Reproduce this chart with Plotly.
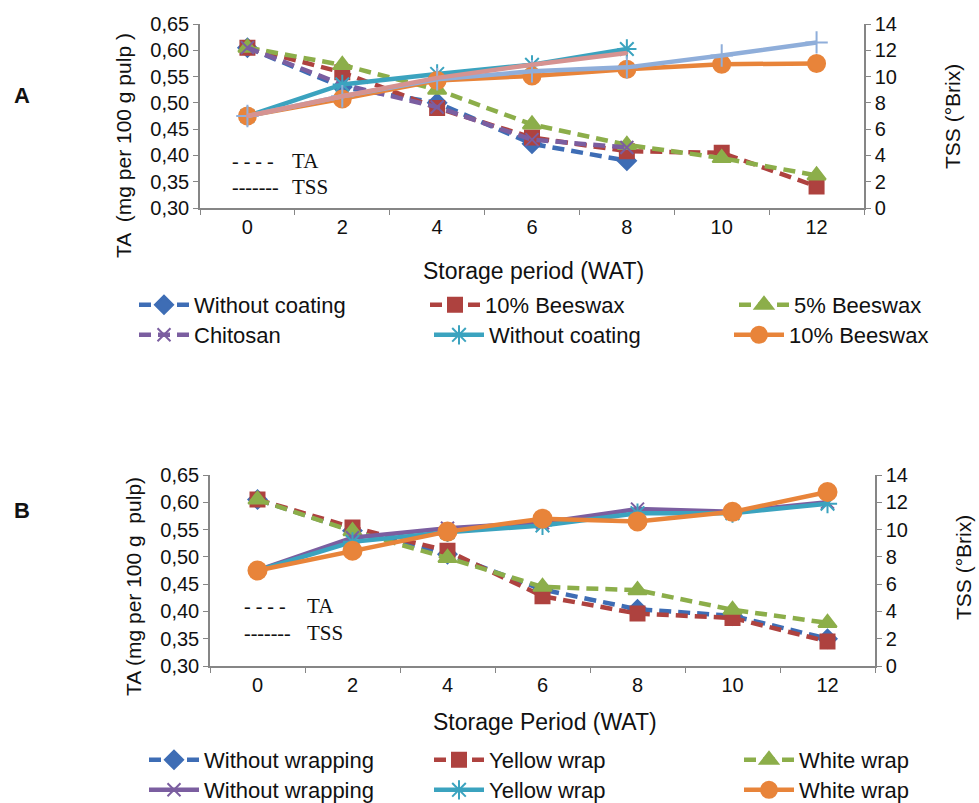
import plotly.graph_objects as go

weeks = ["0", "2", "4", "6", "8", "10", "12"]

# Panel A - TA (mg per 100 g pulp)
a_ta_without = [0.605, 0.530, 0.500, 0.422, 0.390]
a_ta_bw10 = [0.605, 0.558, 0.490, 0.434, 0.408, 0.405, 0.341]
a_ta_bw5 = [0.605, 0.572, 0.525, 0.459, 0.420, 0.395, 0.362]
a_ta_chitosan = [0.605, 0.535, 0.492, 0.430, 0.415]
# Panel A - TSS (°Brix)
a_tss_without = [7.0, 9.4, 10.2, 10.9, 12.1]
a_tss_bw10 = [7.0, 8.3, 9.7, 10.05, 10.56, 10.94, 11.0]
a_tss_bw5 = [7.0, 8.5, 9.8, 10.4, 10.7, 11.6, 12.6]
a_tss_chitosan = [7.0, 8.5, 9.9, 10.9, 11.8]

# Panel B - TA
b_ta_without = [0.605, 0.548, 0.505, 0.440, 0.404, 0.392, 0.350]
b_ta_yellow = [0.605, 0.554, 0.511, 0.428, 0.396, 0.388, 0.345]
b_ta_white = [0.605, 0.547, 0.498, 0.445, 0.439, 0.403, 0.379]
# Panel B - TSS
b_tss_without = [7.0, 9.4, 10.1, 10.5, 11.5, 11.3, 12.0]
b_tss_yellow = [7.0, 9.1, 9.8, 10.3, 11.2, 11.2, 11.9]
b_tss_white = [7.0, 8.45, 9.85, 10.8, 10.6, 11.3, 12.75]

BLUE = "#3E6DB5"
RED = "#AE423F"
GREEN = "#8CAE4A"
PURPLE = "#7B5EA0"
TEAL = "#3BA3BF"
ORANGE = "#E8843A"
LBLUE = "#8FAEDA"
PINK = "#D69391"

DASH = "12px,7px"
FONT = "Liberation Sans, Arial, sans-serif"

# body margin is removed by the post_script below, so page coords == figure coords
OX, OY = 0, 0
W, H = 979, 803


def px(x):
    return (x - OX) / W


def py(y):
    return 1 - (y - OY) / H


fig = go.Figure()


def ta(x, y, name, color, symbol, xa, ya, legend, size=13, showlegend=True):
    fig.add_trace(go.Scatter(
        x=x, y=y, name=name, mode="lines+markers", xaxis=xa, yaxis=ya,
        line=dict(color=color, width=4.5, dash=DASH),
        marker=dict(symbol=symbol, size=size, color=color,
                    line=dict(color=color, width=2)),
        legend=legend, showlegend=showlegend))


def tss(x, y, name, color, symbol, xa, ya, legend, size=14, showlegend=True):
    fig.add_trace(go.Scatter(
        x=x, y=y, name=name, mode="lines+markers", xaxis=xa, yaxis=ya,
        line=dict(color=color, width=4.5),
        marker=dict(symbol=symbol, size=size, color=color,
                    line=dict(color=color, width=2)),
        legend=legend, showlegend=showlegend))


# Panel A
ta(weeks[:5], a_ta_without, "Without coating", BLUE, "diamond", "x", "y", "legend", 14)
ta(weeks, a_ta_bw10, "10% Beeswax", RED, "square", "x", "y", "legend2", 14)
ta(weeks, a_ta_bw5, "5% Beeswax", GREEN, "triangle-up", "x", "y", "legend3", 16)
ta(weeks[:5], a_ta_chitosan, "Chitosan", PURPLE, "x-thin-open", "x", "y", "legend4", 13)
tss(weeks[:5], a_tss_without, "Without coating", TEAL, "asterisk-open", "x", "y2", "legend5", 16)
tss(weeks, a_tss_bw10, "10% Beeswax", ORANGE, "circle", "x", "y2", "legend6", 17)
tss(weeks, a_tss_bw5, "5% Beeswax", LBLUE, "cross-thin-open", "x", "y2", "legend6", 16, False)
tss(weeks[:5], a_tss_chitosan, "Chitosan", PINK, "circle", "x", "y2", "legend6", 1, False)

# Panel B
ta(weeks, b_ta_without, "Without wrapping", BLUE, "diamond", "x2", "y3", "legend7", 14)
ta(weeks, b_ta_yellow, "Yellow wrap", RED, "square", "x2", "y3", "legend8", 14)
ta(weeks, b_ta_white, "White wrap", GREEN, "triangle-up", "x2", "y3", "legend9", 16)
tss(weeks, b_tss_without, "Without wrapping", PURPLE, "x-thin-open", "x2", "y4", "legend10", 13)
tss(weeks, b_tss_yellow, "Yellow wrap", TEAL, "asterisk-open", "x2", "y4", "legend11", 16)
tss(weeks, b_tss_white, "White wrap", ORANGE, "circle", "x2", "y4", "legend12", 18)

AX = "#868686"
tickfont = dict(family=FONT, size=20, color="#111")

xcommon = dict(type="category", range=[-0.5, 6.5], tickson="boundaries",
               ticks="outside", ticklen=5, tickcolor=AX, showline=True,
               linecolor=AX, linewidth=1.5, showgrid=False, zeroline=False,
               tickfont=tickfont, fixedrange=True)
yl = dict(range=[0.30, 0.65], dtick=0.05, tick0=0.30, tickformat=".2f",
          ticks="outside", ticklen=5, tickcolor=AX, showline=True,
          linecolor=AX, linewidth=1.5, showgrid=False, zeroline=False,
          tickfont=tickfont)
yr = dict(range=[0, 14], dtick=2, tick0=0, ticks="outside", ticklen=5,
          tickcolor=AX, showline=True, linecolor=AX, linewidth=1.5,
          showgrid=False, zeroline=False, tickfont=tickfont, side="right")

# plot-area pixel boxes (page coordinates)
A_X0, A_X1, A_Y0, A_Y1 = 200, 864, 24, 208
B_X0, B_X1, B_Y0, B_Y1 = 210, 875, 475, 666

fig.update_layout(
    width=W, height=H,
    margin=dict(l=0, r=0, t=0, b=0, autoexpand=False),
    paper_bgcolor="white", plot_bgcolor="white",
    separators=", ",
    font=dict(family=FONT, size=20, color="#111"),
    xaxis=dict(domain=[px(A_X0), px(A_X1)], anchor="y", **xcommon),
    yaxis=dict(domain=[py(A_Y1), py(A_Y0)], anchor="x", **yl),
    yaxis2=dict(domain=[py(A_Y1), py(A_Y0)], anchor="x", overlaying="y", **yr),
    xaxis2=dict(domain=[px(B_X0), px(B_X1)], anchor="y3", **xcommon),
    yaxis3=dict(domain=[py(B_Y1), py(B_Y0)], anchor="x2", **yl),
    yaxis4=dict(domain=[py(B_Y1), py(B_Y0)], anchor="x2", overlaying="y3", **yr),
)

legfont = dict(family=FONT, size=22, color="#111")
legcommon = dict(orientation="h", xanchor="left", yanchor="middle",
                 font=legfont, bgcolor="rgba(0,0,0,0)", itemwidth=50)
TEXT_OFF = 61
leg_pos = {
    "legend": (195, 305), "legend2": (486, 305), "legend3": (795, 305),
    "legend4": (195, 335), "legend5": (490, 335), "legend6": (790, 335),
    "legend7": (205, 760), "legend8": (490, 760), "legend9": (800, 760),
    "legend10": (205, 790), "legend11": (490, 790), "legend12": (800, 790),
}
fig.update_layout(**{k: dict(x=px(tx - TEXT_OFF), y=py(ty), **legcommon)
                     for k, (tx, ty) in leg_pos.items()})

ann = []


def text(x, y, s, size=22, family=FONT, angle=0, bold=False, xanchor="center"):
    ann.append(dict(x=px(x), y=py(y), xref="paper", yref="paper",
                    text=("<b>%s</b>" % s) if bold else s, showarrow=False,
                    textangle=angle, xanchor=xanchor, yanchor="middle",
                    font=dict(family=family, size=size, color="#111")))


text(22, 95, "A", size=22, bold=True)
text(22, 510, "B", size=22, bold=True)
text(123, 146, "TA  (mg per 100 g pulp )", size=21, angle=-90)
text(952, 117, "TSS (°Brix)", size=21, angle=-90)
text(533, 271, "Storage period (WAT)", size=23)
text(133, 587, "TA (mg per 100 g  pulp)", size=21, angle=-90)
text(963, 568, "TSS (°Brix)", size=21, angle=-90)
text(545, 722, "Storage Period (WAT)", size=23)

SERIF = "Liberation Serif, Times New Roman, serif"
text(230, 161, "- - - -", size=20, family=SERIF, xanchor="left")
text(290, 161, "TA", size=21, family=SERIF, xanchor="left")
text(230, 187, "-------", size=20, family=SERIF, xanchor="left")
text(290, 187, "TSS", size=21, family=SERIF, xanchor="left")
text(242, 606, "- - - -", size=20, family=SERIF, xanchor="left")
text(305, 606, "TA", size=21, family=SERIF, xanchor="left")
text(242, 633, "-------", size=20, family=SERIF, xanchor="left")
text(305, 633, "TSS", size=21, family=SERIF, xanchor="left")

fig.update_layout(annotations=ann)

fig.write_html(
    "out.html",
    config={"displayModeBar": False},
    post_script="document.body.style.margin='0px';"
                "document.documentElement.style.overflow='hidden';",
)
